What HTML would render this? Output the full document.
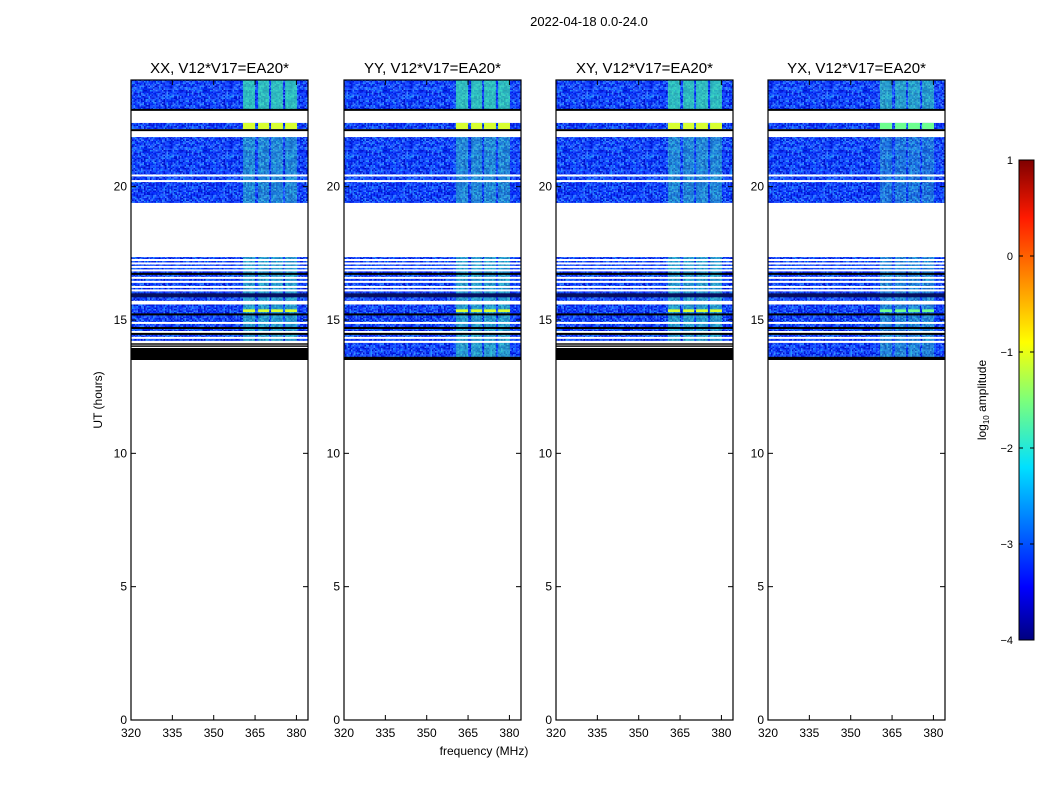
<!DOCTYPE html>
<html><head><meta charset="utf-8">
<style>
body{margin:0;background:#fff;}
svg text{font-family:"Liberation Sans","DejaVu Sans",sans-serif;}
</style></head>
<body>
<svg id="fig" width="1050" height="800" viewBox="0 0 1050 800" xmlns="http://www.w3.org/2000/svg">
<defs>
<linearGradient id="jet" x1="0" y1="1" x2="0" y2="0">
<stop offset="0" stop-color="#00007f"/><stop offset="0.11" stop-color="#0000ff"/>
<stop offset="0.36" stop-color="#00e0ff"/><stop offset="0.5" stop-color="#7dff7a"/>
<stop offset="0.62" stop-color="#ffff00"/><stop offset="0.88" stop-color="#ff1a00"/>
<stop offset="1" stop-color="#7f0000"/></linearGradient>
<pattern id="noise" width="60" height="60" patternUnits="userSpaceOnUse"></pattern>
</defs>
<text x="589" y="26" font-size="13" text-anchor="middle">2022-04-18 0.0-24.0</text>
<g id="panels"></g>
<text x="484" y="755" font-size="12" text-anchor="middle">frequency (MHz)</text>
<text x="102" y="400" font-size="12" text-anchor="middle" transform="rotate(-90 102 400)">UT (hours)</text>
<g>
<rect x="1019" y="160" width="15" height="480" fill="url(#jet)" stroke="#000" stroke-width="1"/>
<g id="cbticks"></g>
<text x="986" y="400" font-size="12" text-anchor="middle" transform="rotate(-90 986 400)">log<tspan font-size="8" dy="3">10</tspan><tspan dy="-3"> amplitude</tspan></text>
</g>
</svg>
<script>
// ---- data ----
const panelTitles = ["XX, V12*V17=EA20*","YY, V12*V17=EA20*","XY, V12*V17=EA20*","YX, V12*V17=EA20*"];
const panelLefts = [131,344,556,768];
const xTicks = [320,335,350,365,380];
const yTicks = [0,5,10,15,20];
const cbTicks = [1,0,-1,-2,-3,-4];
const dataBlocks = [[22.875,24],[22.16,22.39],[19.39,21.86],[13.5,17.36]];
const blockStrength = [0.9,1.0,0.5,0.65];
const bandStarts = [360.6,366.1,370.8,375.9];
const bandEnds = [365.0,370.1,375.1,380.2];
const panelBandStrength = [1.0,1.0,1.0,0.75];
const whiteLines = [20.42,20.21,17.25,17.12,16.99,16.86,16.58,16.43,16.24,16.11,15.68,15.62,14.89,14.55,14.33,14.18];
const blackLines = [22.88,22.12,16.73,15.21,14.7,14.48];
const thickBlack = [[15.85,16.0]];
const yellowRows = [[22.16,22.39],[15.3,15.4]];
const bottomBlack = [true,false,true,false];
// ---- axes ----
const W=177, TOP=80, BOT=720, XMIN=320, XMAX=384.2;
const yS = h => BOT-(h/24)*(BOT-TOP);
const xS = (f,L) => L+(f-XMIN)/(XMAX-XMIN)*W;
const NS="http://www.w3.org/2000/svg";
function mk(tag,attrs,parent){const e=document.createElementNS(NS,tag);for(const k in attrs)e.setAttribute(k,attrs[k]);parent.appendChild(e);return e;}
// noise texture (deterministic)
const pat=document.getElementById('noise');
const blues=["#0a2cff","#1f4dff","#0018e0","#2a66ff","#0d20d8","#3f85ff","#1a44ff","#0030f0","#1466ff","#2090ff","#0010c8","#1a50ff"];
mk('rect',{x:0,y:0,width:60,height:60,fill:'#1a40f5'},pat);
let s=12345;
for(let y=0;y<60;y+=1.5)for(let x=0;x<60;x+=1.5){s=(Math.imul(s,1103515245)+12345)>>>0;mk('rect',{x:x,y:y,width:1.5,height:1.5,fill:blues[(s>>>16)%blues.length]},pat);}
const root=document.getElementById('panels');
panelTitles.forEach((t,i)=>{
  const L=panelLefts[i];
  const g=mk('g',{},root);
  
  
  dataBlocks.forEach((b,j)=>{
    let lo=b[0];
    if(j===3&&bottomBlack[i]) lo=14.18;
    const r=mk('rect',{x:L,y:yS(b[1]),width:W,height:yS(lo)-yS(b[1]),fill:'url(#noise)'},g);
    
    
    bandStarts.forEach((f0,k)=>{
      const a=blockStrength[j]*panelBandStrength[i];
      const bb=mk('rect',{x:xS(f0,L),y:yS(b[1]),width:xS(bandEnds[k],L)-xS(f0,L),height:yS(lo)-yS(b[1]),fill:'#40ffa0','fill-opacity':a*0.7},g);
      
      
    });
  });
  yellowRows.forEach(r0=>{
    bandStarts.forEach((f0,k)=>{
      const c=mk('rect',{x:xS(f0,L),y:yS(r0[1]),width:xS(bandEnds[k],L)-xS(f0,L),height:yS(r0[0])-yS(r0[1]),fill:panelBandStrength[i]<1?'#6dff90':'#d8ff30'},g);
      
      
    });
  });
  whiteLines.forEach(h=>{const l=mk('rect',{x:L,y:yS(h)-1,width:W,height:2,fill:'#fff'},g);
    
    });
  blackLines.forEach(h=>{const l=mk('rect',{x:L,y:yS(h)-1,width:W,height:2,fill:'#000'},g);
    
    });
  thickBlack.forEach(b=>{const l=mk('rect',{x:L,y:yS(b[1]),width:W,height:yS(b[0])-yS(b[1]),fill:'#061060'},g);
    
    });
  if(bottomBlack[i]){
    const k=mk('rect',{x:L,y:yS(13.95),width:W,height:yS(13.5)-yS(13.95),fill:'#000'},g);
    
    
    [14.1,14.02].forEach(h=>{const l=mk('rect',{x:L,y:yS(h)-0.7,width:W,height:1.4,fill:'#000'},g);
      
      });
  } else {
    const k=mk('rect',{x:L,y:yS(13.62),width:W,height:yS(13.5)-yS(13.62),fill:'#000'},g);
    
    
  }
  const fr=mk('rect',{x:L,y:TOP,width:W,height:BOT-TOP,fill:'none',stroke:'#000','stroke-width':1.2},g);
  
  
  const tt=mk('text',{x:L+W/2,y:73,'font-size':15,'text-anchor':'middle'},g);tt.textContent=t;
  
  
  xTicks.forEach(v=>{const x=xS(v,L);
    mk('line',{x1:x,y1:BOT,x2:x,y2:BOT-5,stroke:'#000'},g);
    mk('line',{x1:x,y1:TOP,x2:x,y2:TOP+5,stroke:'#000'},g);
    const tx=mk('text',{x:x,y:BOT+17,'font-size':12,'text-anchor':'middle'},g);tx.textContent=v;
    
    });
  yTicks.forEach(v=>{const y=yS(v);
    mk('line',{x1:L,y1:y,x2:L+5,y2:y,stroke:'#000'},g);
    mk('line',{x1:L+W,y1:y,x2:L+W-5,y2:y,stroke:'#000'},g);
    const ty=mk('text',{x:L-4,y:y+4,'font-size':12,'text-anchor':'end'},g);ty.textContent=v;
    
    });
});
const cb=document.getElementById('cbticks');
cbTicks.forEach(v=>{const y=640-(v+4)/5*480;
  mk('line',{x1:1019,y1:y,x2:1023,y2:y,stroke:'#000'},cb);
  mk('line',{x1:1034,y1:y,x2:1030,y2:y,stroke:'#000'},cb);
  const t=mk('text',{x:1013,y:y+4,'font-size':11,'text-anchor':'end'},cb);t.textContent=v<0?'\u2212'+(-v):v;
  
  });
</script>
</body></html>
